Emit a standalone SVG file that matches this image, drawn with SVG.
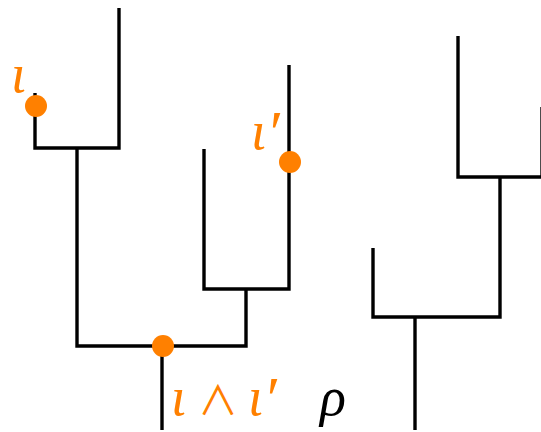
<svg xmlns="http://www.w3.org/2000/svg" width="541" height="432" viewBox="0 0 541 432">
<style>
.e{fill:none;stroke:#000;stroke-width:3.4;stroke-linecap:butt;stroke-linejoin:miter}
.dot{fill:#FF8000}
.lbl{font-family:"Liberation Serif",serif;font-style:italic;font-size:54px;fill:#FF8000}
.op{font-style:normal;font-family:"Noto Sans CJK JP",sans-serif;font-size:40px}
.pr{font-size:62px}
.blk{fill:#000}
</style>
<rect width="541" height="432" fill="#fff"/>
<g id="connectors">
<g id="tree-left">
<path class="e" d="M35,93 V148 H119 V8"/>
<path class="e" d="M77,148 V346 H246 V289"/>
<path class="e" d="M204,149 V289 H289 V65"/>
<path class="e" d="M162,346 V430"/>
</g>
<g id="tree-right">
<path class="e" d="M458,36 V177 H543"/>
<path class="e" d="M542,107 V177"/>
<path class="e" d="M500,177 V317 H373 V248"/>
<path class="e" d="M415,317 V430"/>
</g>
</g>
<g id="node-iota">
<circle class="dot" cx="36" cy="106" r="11"/>
<text class="lbl" x="11" y="92">ι</text>
</g>
<g id="node-iota-prime">
<circle class="dot" cx="290" cy="162" r="11"/>
<text class="lbl" x="251" y="149">ι<tspan class="pr" dy="4">′</tspan></text>
</g>
<g id="node-meet">
<circle class="dot" cx="163" cy="346" r="11"/>
<text class="lbl" y="415"><tspan x="171">ι</tspan><tspan class="op" x="198">∧</tspan><tspan x="248">ι</tspan><tspan class="pr" dy="4">′</tspan></text>
</g>
<g id="node-rho">
<text class="lbl blk" x="320" y="415">ρ</text>
</g>
</svg>
